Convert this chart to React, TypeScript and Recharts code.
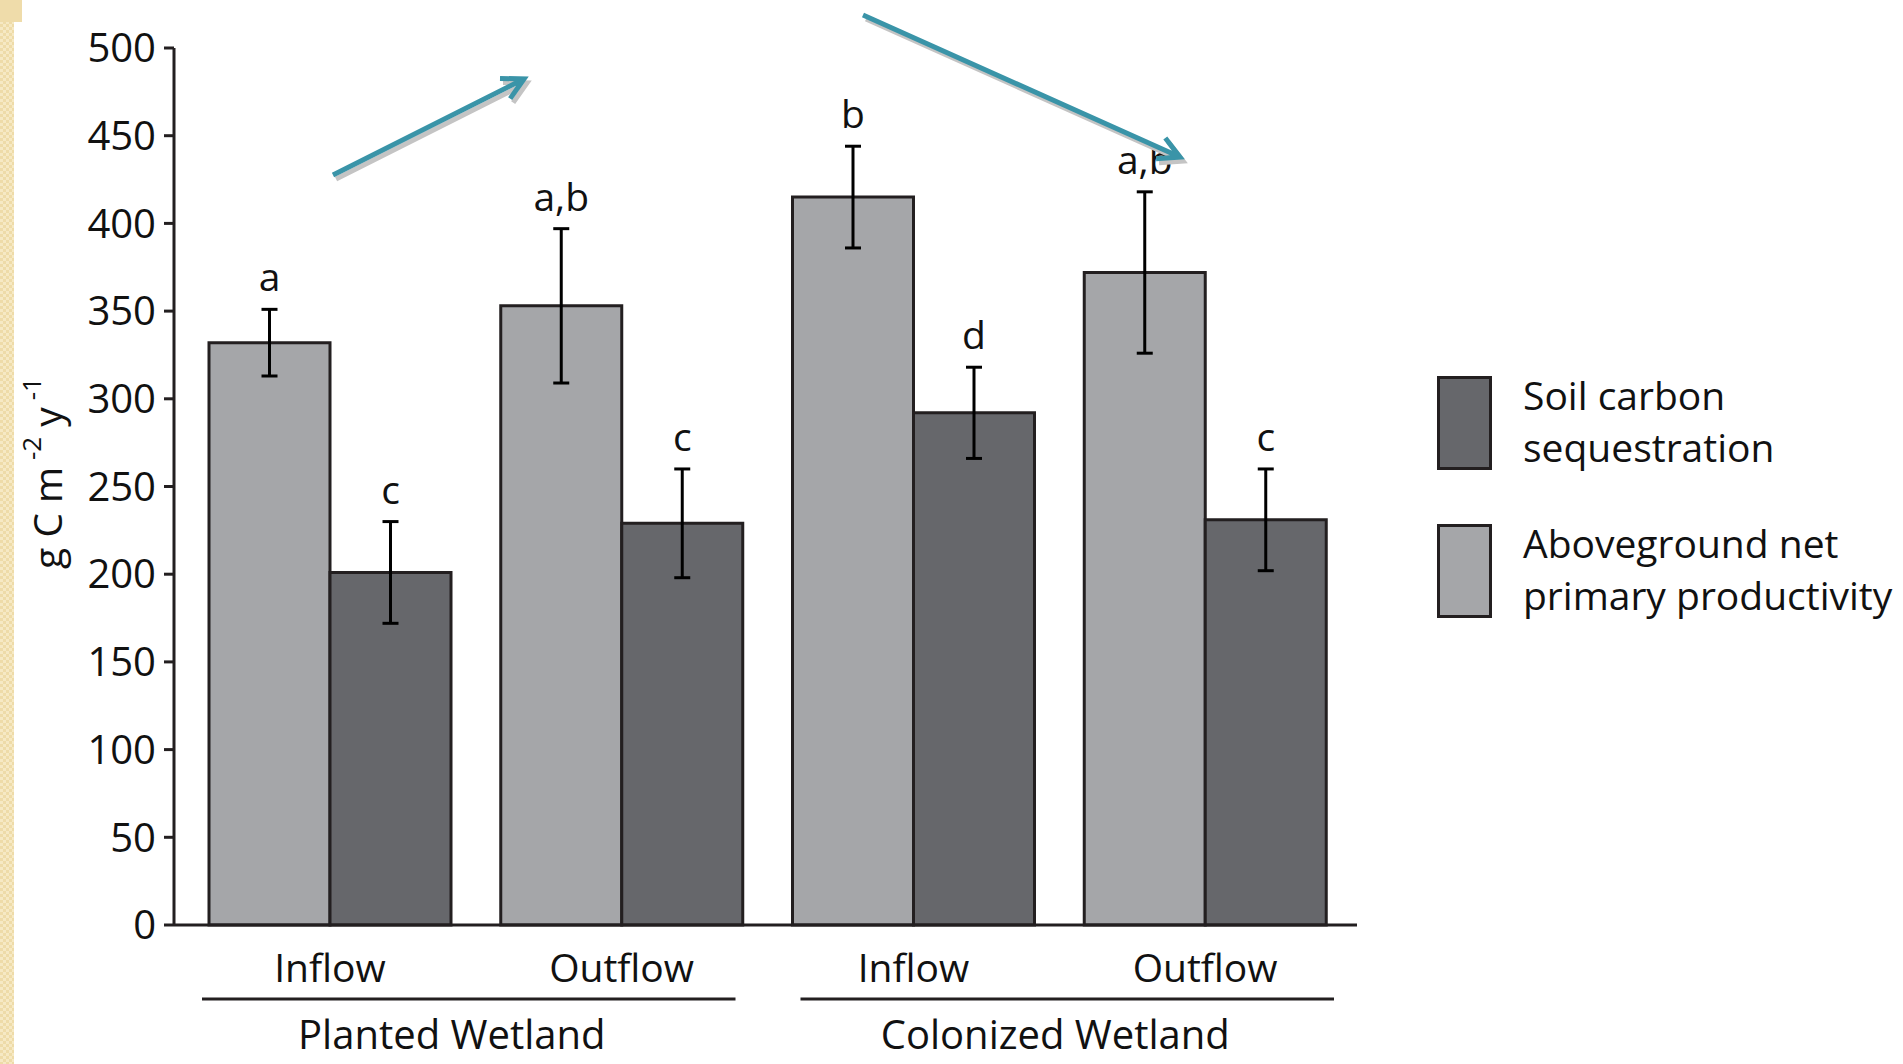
import { Bar, BarChart, ErrorBar, LabelList, Label, Legend, XAxis, YAxis } from 'recharts';

const sites = ['Inflow', 'Outflow', 'Inflow', 'Outflow'];
const wetlands = ['Planted Wetland', 'Planted Wetland', 'Colonized Wetland', 'Colonized Wetland'];
const anppValues = [332, 353, 415, 372];
const anppErrors = [19, 44, 29, 46];
const anppLetters = ['a', 'a,b', 'b', 'a,b'];
const soilValues = [201, 229, 292, 231];
const soilErrors = [29, 31, 26, 29];
const soilLetters = ['c', 'c', 'd', 'c'];
const yTicks = [0, 50, 100, 150, 200, 250, 300, 350, 400, 450, 500];

const data = sites.map((site, i) => ({
  site,
  wetland: wetlands[i],
  anpp: anppValues[i],
  anppErr: anppErrors[i],
  soil: soilValues[i],
  soilErr: soilErrors[i],
}));

const INK = '#231f20';
const LIGHT = '#a5a6a9';
const DARK = '#66676b';
const TEAL = '#3a94a8';
const FONT = '"Open Sans", sans-serif';

// letter sits above the top of the error bar; px-per-unit taken from the drawn bar
function letterContent(letters: string[], errs: number[]) {
  return (props: any) => {
    const { x, y, width, height, value, index } = props;
    if (!value) return null;
    const perUnit = height / value;
    const top = y - errs[index] * perUnit;
    return (
      <text x={x + width / 2} y={top - 18} textAnchor="middle" fontSize={39} fill="#111">
        {letters[index]}
      </text>
    );
  };
}

function SiteTick({ x, y, payload }: any) {
  return (
    <text x={x} y={y + 57} textAnchor="middle" fontSize={39} fill="#111">
      {payload.value}
    </text>
  );
}

// bracket + caption under each wetland; the original spreads the two groups a bit wider
const bracketShift = [-7, 8];
const captionShift = [-24, -4];

function WetlandTick({ x, y, payload, index }: any) {
  const half = (payload.offset || 145) - 25;
  const b = bracketShift[index] ?? 0;
  const c = captionShift[index] ?? 0;
  return (
    <g>
      <line x1={x - half + b} x2={x + half + b} y1={y + 12} y2={y + 12} stroke={INK} strokeWidth={3} />
      <text x={x + c} y={y + 62} textAnchor="middle" fontSize={40} fill="#111">
        {payload.value}
      </text>
    </g>
  );
}

function YLabel() {
  return (
    <text
      transform="translate(46, 473) rotate(-90)"
      textAnchor="middle"
      dominantBaseline="central"
      fontSize={39}
      fill="#111"
    >
      <tspan>g C m</tspan>
      <tspan fontSize={26} dy={-15}> -2</tspan>
      <tspan fontSize={39} dy={15}> y</tspan>
      <tspan fontSize={26} dy={-15}> -1</tspan>
    </text>
  );
}

function LegendBox() {
  const rows = [
    { fill: DARK, lines: ['Soil carbon', 'sequestration'] },
    { fill: LIGHT, lines: ['Aboveground net', 'primary productivity'] },
  ];
  return (
    <div style={{ fontFamily: FONT, color: '#111' }}>
      {rows.map((r, i) => (
        <div key={i} style={{ display: 'flex', height: 94, marginBottom: i === 0 ? 54 : 0 }}>
          <div
            style={{
              width: 55,
              height: 94,
              boxSizing: 'border-box',
              border: `3px solid ${INK}`,
              background: r.fill,
              flex: 'none',
            }}
          />
          <div style={{ marginLeft: 31, marginTop: -7, fontSize: 39, lineHeight: '52px', whiteSpace: 'nowrap' }}>
            {r.lines.map((l) => (
              <div key={l}>{l}</div>
            ))}
          </div>
        </div>
      ))}
    </div>
  );
}

function Arrow({ x1, y1, x2, y2 }: { x1: number; y1: number; x2: number; y2: number }) {
  const back = Math.atan2(y1 - y2, x1 - x2);
  const len = 24;
  const a1 = back + 0.49;
  const a2 = back - 0.49;
  const p1 = [x2 + len * Math.cos(a1), y2 + len * Math.sin(a1)];
  const p2 = [x2 + len * Math.cos(a2), y2 + len * Math.sin(a2)];
  const path = `M${x1},${y1} L${x2},${y2} M${p1[0]},${p1[1]} L${x2},${y2} L${p2[0]},${p2[1]}`;
  return (
    <g fill="none" strokeWidth={5}>
      <path d={path} stroke="#c4c4c4" transform="translate(3,4)" />
      <path d={path} stroke={TEAL} />
    </g>
  );
}

export default function App() {
  return (
    <div
      style={{
        position: 'absolute',
        left: 0,
        top: 0,
        width: 1903,
        height: 1064,
        background: '#fff',
        fontFamily: FONT,
        overflow: 'hidden',
      }}
    >
      <div
        style={{
          position: 'absolute',
          left: 0,
          top: 0,
          width: 14,
          height: 1064,
          background: 'repeating-conic-gradient(#f6e9c4 0 25%, #eedba8 0 50%) 0 0/6px 6px',
        }}
      />
      <div
        style={{
          position: 'absolute',
          left: 0,
          top: 0,
          width: 22,
          height: 22,
          background: '#efdcaa',
        }}
      />
      <BarChart
        width={1903}
        height={1064}
        data={data}
        margin={{ top: 48, right: 546, bottom: 0, left: 0 }}
        barGap={0}
        style={{ position: 'absolute', left: 0, top: 0 }}
      >
        <XAxis
          dataKey="site"
          height={62}
          padding={{ left: 10, right: 6 }}
          axisLine={{ stroke: INK, strokeWidth: 3 }}
          tickLine={false}
          tickSize={0}
          tickMargin={0}
          tick={<SiteTick />}
          interval={0}
        />
        <XAxis
          xAxisId="wetland"
          dataKey="wetland"
          allowDuplicatedCategory={false}
          height={77}
          padding={{ left: 10, right: 6 }}
          axisLine={false}
          tickLine={false}
          tickSize={0}
          tickMargin={0}
          tick={<WetlandTick />}
          interval={0}
        />
        <YAxis
          domain={[0, 500]}
          ticks={yTicks}
          width={174}
          axisLine={{ stroke: INK, strokeWidth: 3 }}
          tickLine={{ stroke: INK, strokeWidth: 3 }}
          tickSize={10}
          tickMargin={8}
          tick={{ fontSize: 40, fill: '#111' }}
          interval={0}
        >
          <Label content={<YLabel />} />
        </YAxis>
        <Legend
          layout="vertical"
          align="center"
          verticalAlign="middle"
          content={<LegendBox />}
          wrapperStyle={{ position: 'absolute', left: 1437, top: 376, width: 466 }}
        />
        <Bar
          dataKey="anpp"
          name="Aboveground net primary productivity"
          fill={LIGHT}
          stroke={INK}
          strokeWidth={3}
          barSize={121}
          isAnimationActive={false}
        >
          <ErrorBar dataKey="anppErr" width={8} stroke="#000" strokeWidth={3} direction="y" />
          <LabelList dataKey="anpp" content={letterContent(anppLetters, anppErrors)} />
        </Bar>
        <Bar
          dataKey="soil"
          name="Soil carbon sequestration"
          fill={DARK}
          stroke={INK}
          strokeWidth={3}
          barSize={121}
          isAnimationActive={false}
        >
          <ErrorBar dataKey="soilErr" width={8} stroke="#000" strokeWidth={3} direction="y" />
          <LabelList dataKey="soil" content={letterContent(soilLetters, soilErrors)} />
        </Bar>
      </BarChart>
      <svg
        width={1903}
        height={1064}
        style={{ position: 'absolute', left: 0, top: 0, pointerEvents: 'none' }}
      >
        <Arrow x1={333} y1={175} x2={524} y2={79} />
        <Arrow x1={863} y1={15} x2={1180} y2={157} />
      </svg>
    </div>
  );
}
